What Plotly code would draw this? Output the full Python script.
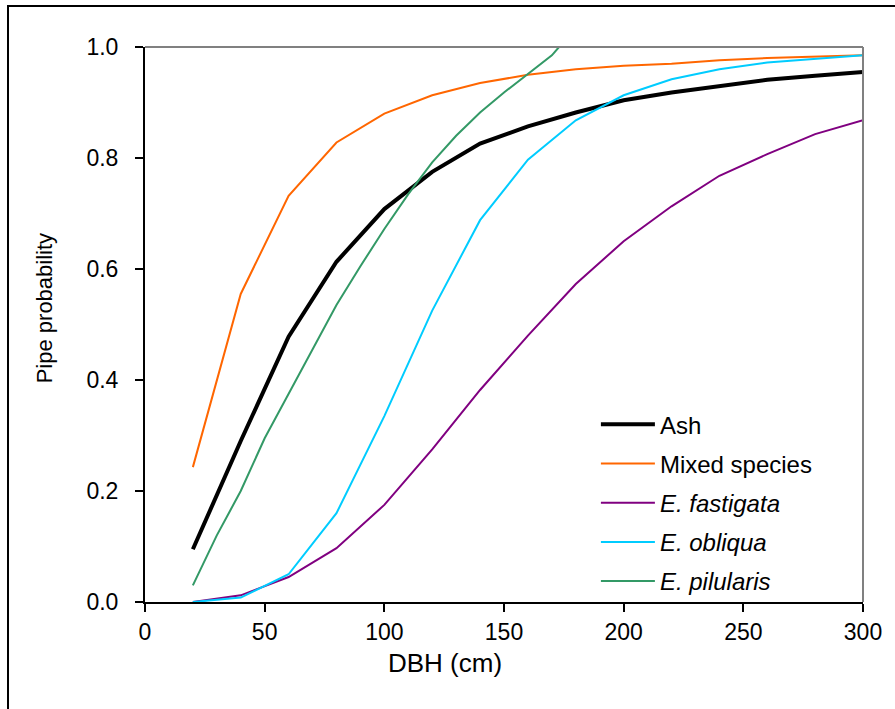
import plotly.graph_objects as go

dbh = [20, 40, 60, 80, 100, 120, 140, 160, 180, 200, 220, 240, 260, 280, 300]
ash = [0.095, 0.29, 0.478, 0.613, 0.708, 0.775, 0.826, 0.857, 0.882, 0.904, 0.918, 0.930, 0.941, 0.948, 0.955]
mixed = [0.243, 0.555, 0.732, 0.828, 0.880, 0.913, 0.935, 0.950, 0.960, 0.966, 0.970, 0.976, 0.980, 0.982, 0.985]
fastigata = [0.0, 0.012, 0.045, 0.097, 0.175, 0.275, 0.382, 0.480, 0.573, 0.650, 0.713, 0.768, 0.807, 0.843, 0.868]
obliqua = [0.0, 0.008, 0.050, 0.160, 0.335, 0.525, 0.688, 0.797, 0.868, 0.913, 0.942, 0.960, 0.972, 0.979, 0.985]
pil_dbh = [20, 30, 35, 40, 50, 60, 70, 80, 90, 100, 110, 120, 130, 140, 150, 160, 170, 173, 300]
pilularis = [0.03, 0.12, 0.16, 0.20, 0.295, 0.375, 0.455, 0.535, 0.605, 0.672, 0.735, 0.792, 0.84, 0.882, 0.918, 0.952, 0.985, 1.0, 1.0]

y_ticks = [0.0, 0.2, 0.4, 0.6, 0.8, 1.0]
x_ticks = [0, 50, 100, 150, 200, 250, 300]

FONT = "Liberation Sans, Arial, sans-serif"

fig = go.Figure()
series = [
    ("Ash", dbh, ash, "#000000", 4),
    ("Mixed species", dbh, mixed, "#FF6600", 2),
    ("<i>E. fastigata</i>", dbh, fastigata, "#800080", 2),
    ("<i>E. obliqua</i>", dbh, obliqua, "#00CCFF", 2),
    ("<i>E. pilularis</i>", pil_dbh, pilularis, "#339966", 2),
]
for i, (name, xs, ys, col, w) in enumerate(series):
    fig.add_trace(go.Scatter(x=xs, y=ys, mode="lines", name=name,
                             line=dict(color=col, width=w), legendgroup=f"g{i}"))

fig.update_layout(
    width=895, height=709,
    margin=dict(l=145, r=32, t=47, b=107),
    paper_bgcolor="white", plot_bgcolor="white",
    font=dict(family=FONT, size=23, color="black"),
    showlegend=True,
    legend=dict(x=0.628, y=0.36, xanchor="left", yanchor="top",
                bgcolor="rgba(0,0,0,0)", tracegroupgap=5,
                font=dict(size=24), itemwidth=54),
    xaxis=dict(range=[0, 300], tickvals=x_ticks, showgrid=False, zeroline=False,
               showline=True, linecolor="black", linewidth=2,
               ticks="outside", ticklen=8, tickwidth=2, tickcolor="black",
               tickfont=dict(size=23)),
    yaxis=dict(range=[0, 1], tickvals=y_ticks, tickformat=".1f", showgrid=False,
               zeroline=False, showline=True, linecolor="black", linewidth=2,
               ticks="outside", ticklen=8, tickwidth=2, tickcolor="black",
               tickfont=dict(size=23), ticklabelstandoff=12),
    shapes=[
        dict(type="line", xref="paper", yref="paper", x0=0, x1=1, y0=1, y1=1,
             line=dict(color="#808080", width=2)),
        dict(type="line", xref="paper", yref="paper", x0=1, x1=1, y0=0, y1=1,
             line=dict(color="#808080", width=2)),
        dict(type="rect", xref="paper", yref="paper", x0=-0.1908, x1=1.06,
             y0=-0.21, y1=1.0739, line=dict(color="black", width=2),
             fillcolor="rgba(0,0,0,0)"),
    ],
    annotations=[
        dict(text="DBH (cm)", xref="paper", yref="paper", x=0.418, y=-0.11,
             showarrow=False, font=dict(size=26), xanchor="center", yanchor="middle"),
        dict(text="Pipe probability", xref="paper", yref="paper", x=-0.14, y=0.53,
             showarrow=False, textangle=-90, font=dict(size=22),
             xanchor="center", yanchor="middle"),
    ],
)

fig.write_html("out.html")
